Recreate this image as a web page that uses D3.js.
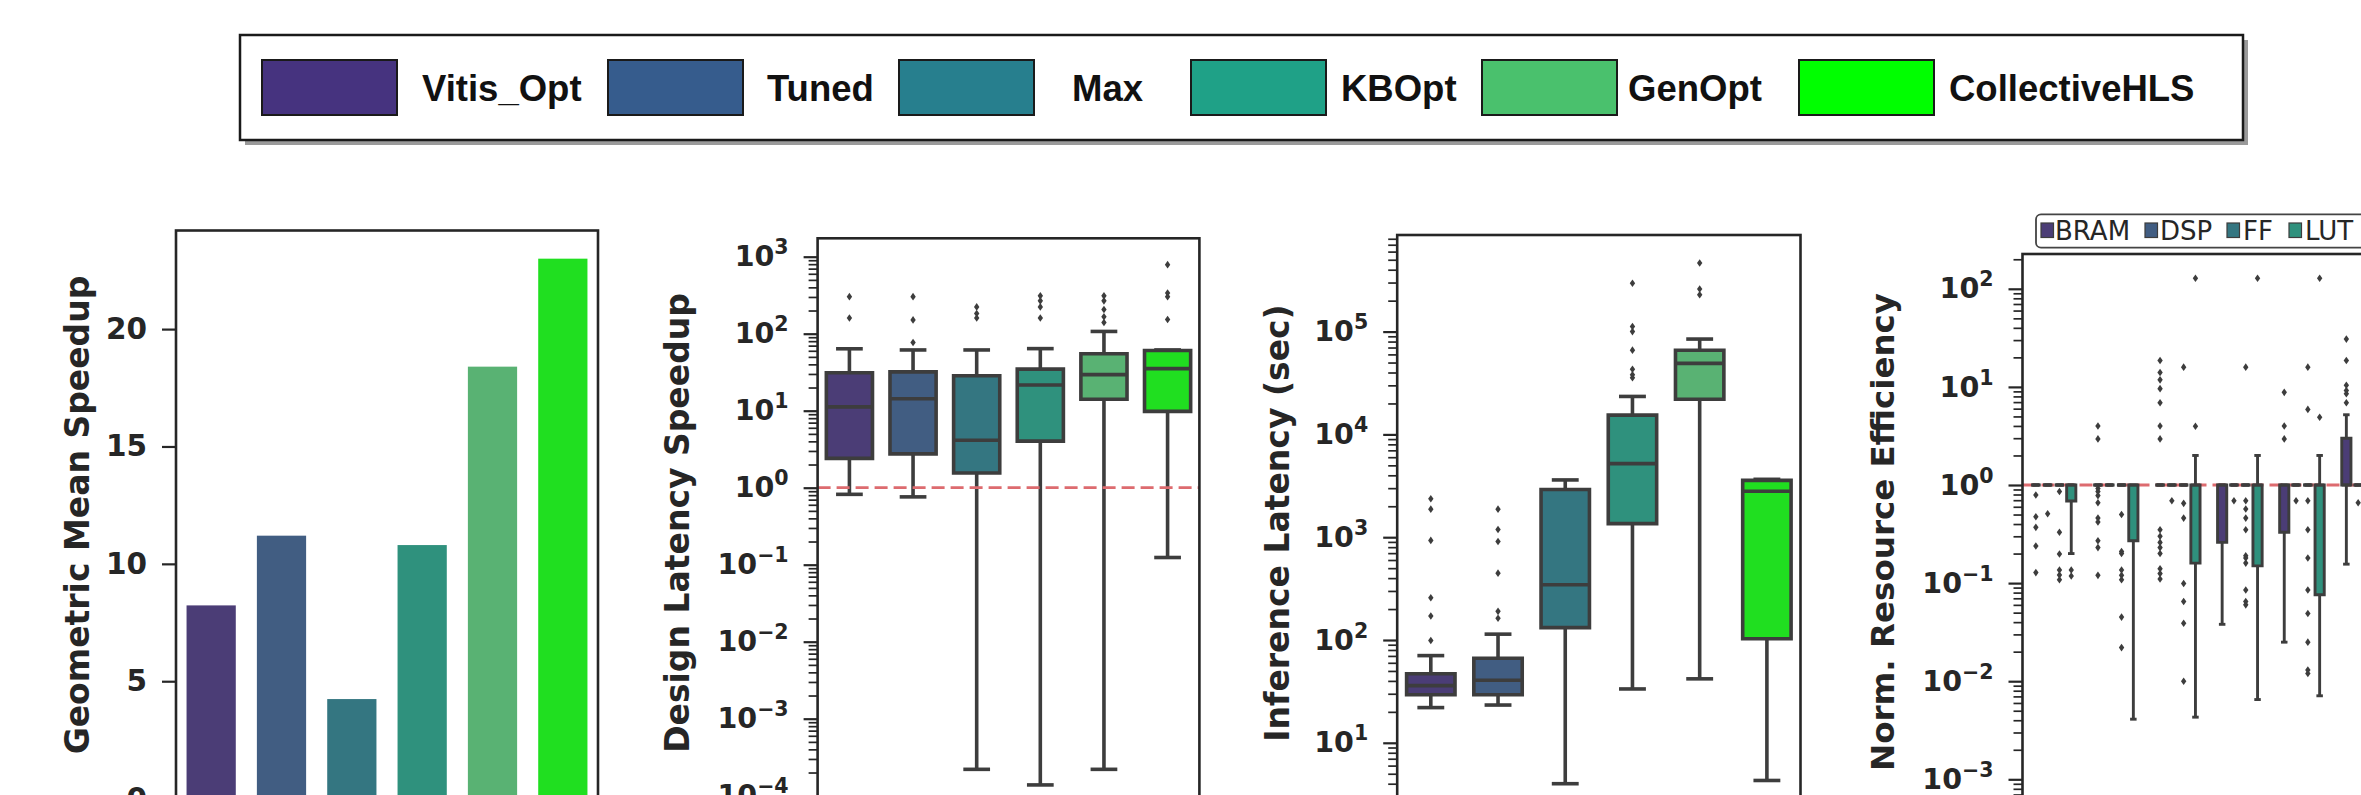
<!DOCTYPE html>
<html>
<head>
<meta charset="utf-8">
<script src="https://cdn.jsdelivr.net/npm/d3@7"></script>
<style>
  body { margin: 0; background: #fff; }
  svg { display: block; }
</style>
</head>
<body>
<svg id="fig" width="2361" height="795"></svg>
<script>
// ---------------- data ----------------
const methods = ["Vitis_Opt", "Tuned", "Max", "KBOpt", "GenOpt", "CollectiveHLS"];
const methodColors = ["#46337f", "#365c8d", "#277f8e", "#1fa187", "#4ac16d", "#00ff00"];

const geoMeanSpeedup = [8.23, 11.2, 4.24, 10.8, 18.4, 23.0];

// box stats: [lower whisker, q1, median, q3, upper whisker]
const speedupBoxes = [
  [0.82, 2.40, 11.2, 31.1, 63.7],
  [0.76, 2.75, 14.3, 31.9, 61.5],
  [2.2e-4, 1.55, 4.13, 28.5, 61.5],
  [1.38e-4, 4.03, 21.6, 34.7, 64],
  [2.2e-4, 14.1, 29.4, 55, 107],
  [0.124, 9.8, 35.2, 60.5, 61.5]
];
const speedupOutliers = [
  [303, 160],
  [303, 151, 76.7],
  [223, 183, 160],
  [310, 267, 223, 160],
  [310, 267, 206, 166, 140],
  [789, 338, 303, 153]
];

const inferenceBoxes = [
  [22, 29.3, 36, 47, 70.5],
  [23.3, 29.3, 40.6, 66.4, 114],
  [4.0, 132, 345, 2911, 3606],
  [33.4, 1355, 5200, 15400, 23400],
  [41.9, 22000, 49100, 65800, 84600],
  [4.3, 103, 2800, 3574, 3656]
];
const inferenceOutliers = [
  [2366, 1875, 931, 258, 171, 99],
  [1875, 1189, 908, 447, 190, 163],
  [],
  [295000, 112000, 100000, 66000, 43000, 38000, 35600],
  [465000, 260000, 228000],
  []
];

const resources = ["BRAM", "DSP", "FF", "LUT"];
const resourceColors = ["#46337f", "#365c8d", "#277f8e", "#1fa187"];
const flat = [1, 1, 1, 1, 1];
// per method, per resource
const resourceBoxes = [
  [flat, flat, flat, [0.2, 0.687, 1, 1, 1]],
  [flat, flat, flat, [0.0041, 0.27, 1, 1, 1]],
  [flat, flat, flat, [0.0043, 0.16, 1, 1, 2.0]],
  [[0.038, 0.26, 1, 1, 1], flat, flat, [0.0065, 0.15, 1, 1, 2.0]],
  [[0.025, 0.33, 1, 1, 1], flat, flat, [0.0071, 0.076, 1, 1, 2.0]],
  [[0.156, 1, 1, 3.0, 5.2], flat, null, null]
];
const resourceOutliers = [
  [[0.79, 0.475, 0.37, 0.239, 0.128], [0.51], [0.86, 0.33, 0.198, 0.136, 0.121, 0.108], [0.136, 0.118]],
  [[0.92, 0.86, 0.78, 0.66, 0.46, 0.42, 0.27, 0.23, 0.12, 2.95, 4.0], [], [0.5, 0.21, 0.2, 0.136, 0.12, 0.108, 0.045, 0.022], []],
  [[0.35, 0.3, 0.26, 0.23, 0.2, 0.14, 0.125, 0.11, 18.6, 14, 11.8, 9.6, 6.9, 4.0, 2.95], [0.69], [0.65, 0.46, 0.099, 0.065, 0.039, 0.01, 15.9], [3.97, 128]],
  [[], [0.69], [0.69, 0.57, 0.46, 0.35, 0.19, 0.18, 0.16, 0.085, 0.065, 0.06, 15.9], [128]],
  [[8.8, 4.0, 2.95], [0.69], [0.69, 0.35, 0.18, 0.085, 0.049, 0.025, 0.013, 0.012, 15.9, 5.9], [128, 4.9]],
  [[30.7, 18.6, 10.4, 9.2, 8.5, 6.9], [0.66], [], []]
];

// ---------------- helpers ----------------
const svg = d3.select("#fig");
const ink = "#262626", boxInk = "#3d3d3d";
const font = "'DejaVu Sans', sans-serif";
const desat = c => { const h = d3.hsl(c); h.s *= 0.75; return h.formatHex(); };
const diamond = "M0,-3.8L2.7,0L0,3.8L-2.7,0Z";

function frame(g, left, right, top) {
  g.append("rect")
    .attr("x", left).attr("y", top)
    .attr("width", right - left).attr("height", 700)
    .attr("fill", "none").attr("stroke", ink).attr("stroke-width", 2.6);
}

function yLabel(g, x, y, text, fs) {
  g.append("text")
    .attr("transform", `translate(${x},${y}) rotate(-90)`)
    .attr("text-anchor", "middle").attr("dominant-baseline", "central")
    .attr("font-family", font).attr("font-weight", "bold")
    .attr("font-size", fs).attr("fill", ink)
    .text(text);
}

function styleAxis(ax, fs) {
  ax.select(".domain").remove();
  ax.selectAll(".tick line").attr("stroke", ink).attr("stroke-width", 2.2);
  ax.selectAll(".tick text").attr("font-family", font).attr("font-weight", "bold")
    .attr("font-size", fs).attr("fill", ink);
}

function logAxis(g, y, x0, top, e0, e1, fs) {
  const majors = d3.range(e0, e1 + 1).map(e => Math.pow(10, e));
  const minors = [];
  for (let e = e0 - 1; e <= e1; e++) for (let m = 2; m < 10; m++) minors.push(m * Math.pow(10, e));
  const vis = minors.filter(v => y(v) >= top);
  const mi = g.append("g").attr("transform", `translate(${x0},0)`)
    .call(d3.axisLeft(y).tickValues(vis).tickSize(9).tickFormat(""));
  mi.select(".domain").remove();
  mi.selectAll(".tick line").attr("stroke", ink).attr("stroke-width", 1.7);
  const ax = g.append("g").attr("transform", `translate(${x0},0)`)
    .call(d3.axisLeft(y).tickValues(majors).tickSize(14).tickPadding(15).tickFormat(""));
  styleAxis(ax, fs);
  ax.selectAll(".tick text").each(function (d) {
    const e = Math.round(Math.log10(d));
    const t = d3.select(this);
    t.append("tspan").text("10");
    t.append("tspan").attr("dy", -0.42 * fs).attr("font-size", fs * 0.72)
      .text(e < 0 ? "\u2212" + (-e) : String(e));
  });
}

function drawBox(g, cx, w, capW, s, y, fill, lw) {
  const [lo, q1, med, q3, hi] = s;
  const line = (x1, y1, x2, y2) => g.append("line")
    .attr("x1", x1).attr("y1", y1).attr("x2", x2).attr("y2", y2)
    .attr("stroke", boxInk).attr("stroke-width", lw);
  line(cx, y(q1), cx, y(lo));
  line(cx, y(q3), cx, y(hi));
  line(cx - capW / 2, y(lo), cx + capW / 2, y(lo));
  line(cx - capW / 2, y(hi), cx + capW / 2, y(hi));
  g.append("path")
    .attr("d", `M${cx - w / 2},${y(q3)}H${cx + w / 2}V${y(q1)}H${cx - w / 2}Z`)
    .attr("fill", fill).attr("stroke", boxInk).attr("stroke-width", lw);
  line(cx - w / 2, y(med), cx + w / 2, y(med));
}

function drawFliers(g, cx, vals, y) {
  g.selectAll(null).data(vals).join("path")
    .attr("d", diamond)
    .attr("transform", d => `translate(${cx},${y(d)})`)
    .attr("fill", boxInk);
}

function refLine(g, x1, x2, yv) {
  g.append("line")
    .attr("x1", x1).attr("x2", x2).attr("y1", yv).attr("y2", yv)
    .attr("stroke", "#dd6b6f").attr("stroke-width", 2.8)
    .attr("stroke-dasharray", "13,6");
}

// ---------------- top legend ----------------
const legendPatchX = [262, 608, 899, 1191, 1482, 1799];
const legendTextX = [422, 767, 1072, 1341, 1628, 1949];
const lg = svg.append("g");
lg.append("rect").attr("x", 245).attr("y", 40).attr("width", 2003).attr("height", 105).attr("fill", "#9a9a9a");
lg.append("rect").attr("x", 240).attr("y", 35).attr("width", 2003).attr("height", 105)
  .attr("fill", "#fff").attr("stroke", "#1a1a1a").attr("stroke-width", 2.5);
lg.selectAll("rect.patch").data(methods).join("rect").attr("class", "patch")
  .attr("x", (d, i) => legendPatchX[i]).attr("y", 60)
  .attr("width", 135).attr("height", 55)
  .attr("fill", (d, i) => methodColors[i])
  .attr("stroke", "#1a1a1a").attr("stroke-width", 2);
lg.selectAll("text").data(methods).join("text")
  .attr("x", (d, i) => legendTextX[i]).attr("y", 88)
  .attr("dominant-baseline", "central")
  .attr("font-family", "'Liberation Sans', Arial, sans-serif").attr("font-weight", "bold")
  .attr("font-size", 36.5).attr("fill", "#111")
  .text(d => d);

// ---------------- panel 1: geometric mean speedup ----------------
{
  const g = svg.append("g");
  const left = 176, right = 598, top = 230.5;
  const x = d3.scaleBand().domain(methods).range([left, right]).paddingInner(0.3).paddingOuter(0.15);
  const y = d3.scaleLinear().domain([0, 24.2]).range([798.6, top]);
  g.selectAll("rect.bar").data(methods).join("rect").attr("class", "bar")
    .attr("x", d => x(d)).attr("width", x.bandwidth())
    .attr("y", (d, i) => y(geoMeanSpeedup[i]))
    .attr("height", (d, i) => y(0) - y(geoMeanSpeedup[i]))
    .attr("fill", (d, i) => desat(methodColors[i]));
  frame(g, left, right, top);
  const ax = g.append("g").attr("transform", `translate(${left},0)`)
    .call(d3.axisLeft(y).tickValues([0, 5, 10, 15, 20]).tickSize(14).tickPadding(15));
  styleAxis(ax, 29.5);
  yLabel(g, 77, 515, "Geometric Mean Speedup", 33);
}

// ---------------- panel 2: design latency speedup ----------------
{
  const g = svg.append("g");
  const left = 817.6, right = 1199.4, top = 238.3;
  const x = d3.scaleBand().domain(methods).range([left, right]);
  const y = d3.scaleLog().domain([1, 1000]).range([487.7, 256.7]);
  const step = x.step();
  methods.forEach((m, i) => {
    const cx = x(m) + step / 2;
    drawBox(g, cx, step * 0.725, step * 0.42, speedupBoxes[i], y, desat(methodColors[i]), 3.6);
    drawFliers(g, cx, speedupOutliers[i], y);
  });
  refLine(g, left, right, y(1));
  frame(g, left, right, top);
  logAxis(g, y, left, top, -4, 3, 28.5);
  yLabel(g, 677, 523, "Design Latency Speedup", 33);
}

// ---------------- panel 3: inference latency ----------------
{
  const g = svg.append("g");
  const left = 1397.2, right = 1800.5, top = 235;
  const x = d3.scaleBand().domain(methods).range([left, right]);
  const y = d3.scaleLog().domain([10, 1e5]).range([742.8, 331.6]);
  const step = x.step();
  methods.forEach((m, i) => {
    const cx = x(m) + step / 2;
    drawBox(g, cx, step * 0.72, step * 0.4, inferenceBoxes[i], y, desat(methodColors[i]), 3.6);
    drawFliers(g, cx, inferenceOutliers[i], y);
  });
  frame(g, left, right, top);
  logAxis(g, y, left, top, 0, 5, 28.5);
  yLabel(g, 1277, 523, "Inference Latency (sec)", 33);
}

// ---------------- panel 4: normalized resource efficiency ----------------
{
  const g = svg.append("g");
  const left = 2022.5, step = 62.1, top = 254;
  const x = d3.scaleBand().domain(methods).range([left, left + step * methods.length]);
  const y = d3.scaleLog().domain([1e-3, 100]).range([779.3, 288.8]);
  const hueStep = step * 0.19;
  refLine(g, left, 2361, y(1));
  methods.forEach((m, i) => {
    resources.forEach((r, h) => {
      const cx = x(m) + step / 2 + (h - 1.5) * hueStep;
      const fill = desat(resourceColors[h]);
      if (resourceBoxes[i][h]) drawBox(g, cx, hueStep - 2.6, hueStep * 0.55, resourceBoxes[i][h], y, fill, 2.9);
      drawFliers(g, cx, resourceOutliers[i][h], y);
    });
  });
  frame(g, left, left + step * methods.length, top);
  logAxis(g, y, left, top, -3, 2, 28.5);
  yLabel(g, 1883, 532, "Norm. Resource Efficiency", 32.5);

  // hue legend
  const patchX = [2041, 2145, 2227, 2289];
  const textX = [2055, 2160, 2243, 2305];
  g.append("rect").attr("x", 2036).attr("y", 214.3).attr("width", 400).attr("height", 33.4)
    .attr("rx", 5).attr("fill", "#fff").attr("stroke", "#444").attr("stroke-width", 1.8);
  g.selectAll("rect.hp").data(resources).join("rect").attr("class", "hp")
    .attr("x", (d, i) => patchX[i]).attr("y", 223)
    .attr("width", 12.5).attr("height", 14.5)
    .attr("fill", (d, i) => desat(resourceColors[i]))
    .attr("stroke", boxInk).attr("stroke-width", 1.2);
  g.selectAll("text.ht").data(resources).join("text").attr("class", "ht")
    .attr("x", (d, i) => textX[i]).attr("y", 231)
    .attr("dominant-baseline", "central")
    .attr("font-family", font).attr("font-size", 26).attr("fill", ink)
    .text(d => d);
}
</script>
</body>
</html>
